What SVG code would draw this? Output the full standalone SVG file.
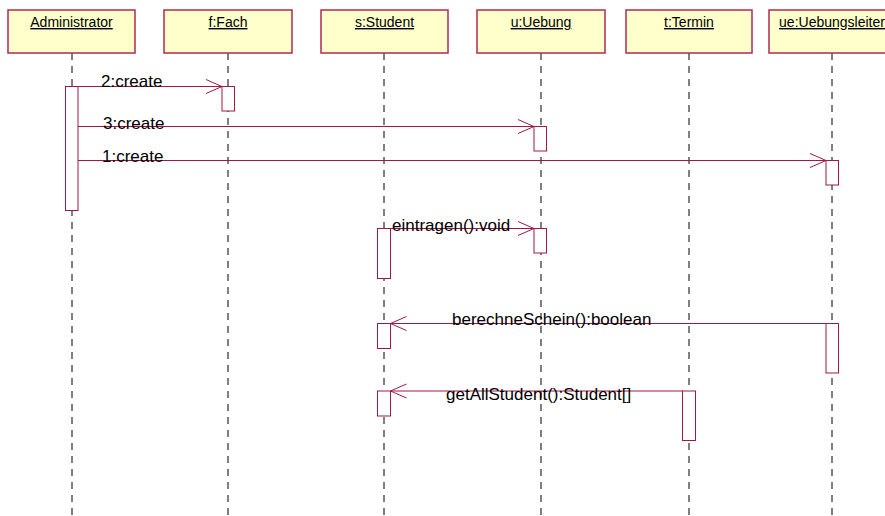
<svg xmlns="http://www.w3.org/2000/svg" width="885" height="516" viewBox="0 0 885 516">
<defs>
<style>
.box{fill:#FFFFCC;stroke:#B02A55;stroke-width:1.5}
.lbl{font-family:"Liberation Sans",Arial,sans-serif;font-size:14px;fill:#000;text-anchor:middle;text-decoration:underline}
.life{stroke:#000;stroke-width:1;stroke-dasharray:7 6;fill:none}
.act{fill:#fff;stroke:#A0184A;stroke-width:1}
.msg{stroke:#A0184A;stroke-width:1;fill:none}
.mt{font-family:"Liberation Sans",Arial,sans-serif;font-size:17px;fill:#000}
</style>
<marker id="arr" markerWidth="18" markerHeight="16" refX="16" refY="7.5" orient="auto" markerUnits="userSpaceOnUse">
<path d="M0,0.5 L16,7.5 L0,14.5" fill="none" stroke="#A0184A" stroke-width="1"/>
</marker>
</defs>
<rect width="885" height="516" fill="#fff"/>
<g id="lifelines">
<line class="life" x1="72" y1="53" x2="72" y2="516"/>
<line class="life" x1="228" y1="53" x2="228" y2="516"/>
<line class="life" x1="384" y1="53" x2="384" y2="516"/>
<line class="life" x1="541" y1="53" x2="541" y2="516"/>
<line class="life" x1="689" y1="53" x2="689" y2="516"/>
<line class="life" x1="832" y1="53" x2="832" y2="516"/>
</g>
<g id="n-admin"><rect class="box" x="8" y="10" width="127" height="43"/><text class="lbl" x="71.5" y="27">Administrator</text></g>
<g id="n-fach"><rect class="box" x="164" y="10" width="128" height="43"/><text class="lbl" x="228" y="27">f:Fach</text></g>
<g id="n-student"><rect class="box" x="321" y="10" width="127" height="43"/><text class="lbl" x="384.5" y="27">s:Student</text></g>
<g id="n-uebung"><rect class="box" x="477" y="10" width="128" height="43"/><text class="lbl" x="541" y="27">u:Uebung</text></g>
<g id="n-termin"><rect class="box" x="626" y="10" width="126" height="43"/><text class="lbl" x="689" y="27">t:Termin</text></g>
<g id="n-leiter"><rect class="box" x="769" y="10" width="128" height="43"/><text class="lbl" x="832" y="27">ue:Uebungsleiter</text></g>
<g id="activations">
<rect class="act" x="65.5" y="86.5" width="12.5" height="124"/>
<rect class="act" x="222" y="86.5" width="12.5" height="24.5"/>
<rect class="act" x="534" y="126.5" width="12.5" height="24.5"/>
<rect class="act" x="826" y="160.5" width="12.5" height="24.5"/>
<rect class="act" x="377.5" y="228.5" width="13" height="50"/>
<rect class="act" x="534" y="228.5" width="12.5" height="24.5"/>
<rect class="act" x="377.5" y="323.5" width="13" height="25"/>
<rect class="act" x="826" y="323.5" width="12.5" height="49.5"/>
<rect class="act" x="377.5" y="391" width="13" height="25"/>
<rect class="act" x="682.5" y="391" width="13" height="49.5"/>
</g>
<g id="connectors">
<line class="msg" x1="78" y1="86.5" x2="222" y2="86.5" marker-end="url(#arr)"/>
<line class="msg" x1="78" y1="126.5" x2="534" y2="126.5" marker-end="url(#arr)"/>
<line class="msg" x1="78" y1="160.5" x2="826" y2="160.5" marker-end="url(#arr)"/>
<line class="msg" x1="390.5" y1="228.5" x2="534" y2="228.5" marker-end="url(#arr)"/>
<line class="msg" x1="826" y1="323.5" x2="390.5" y2="323.5" marker-end="url(#arr)"/>
<line class="msg" x1="682.5" y1="391" x2="390.5" y2="391" marker-end="url(#arr)"/>
<text class="mt" x="101" y="86.5">2:create</text>
<text class="mt" x="103" y="129">3:create</text>
<text class="mt" x="102" y="161.5">1:create</text>
<text class="mt" x="392" y="231">eintragen():void</text>
<text class="mt" x="452" y="325">berechneSchein():boolean</text>
<text class="mt" x="446" y="400">getAllStudent():Student[]</text>
</g>
</svg>
